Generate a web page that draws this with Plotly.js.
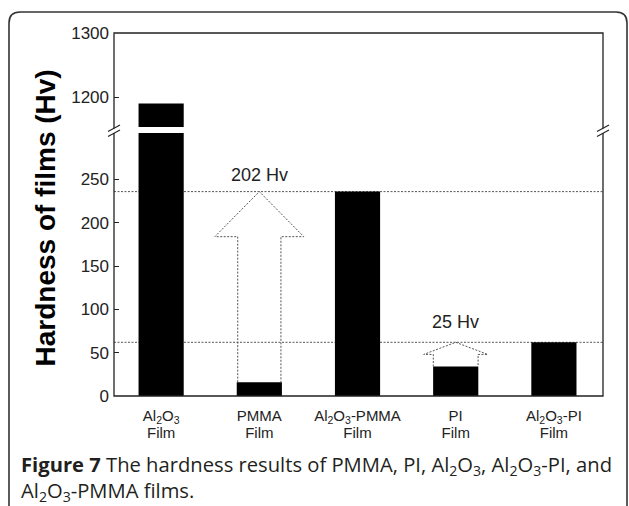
<!DOCTYPE html>
<html>
<head>
<meta charset="utf-8">
<script src="https://cdn.plot.ly/plotly-3.0.1.min.js"></script>
<style>html,body{margin:0;padding:0;background:#fff;}#chart{width:629px;height:506px;}</style>
</head>
<body>
<div id="chart"></div>
<script>
// ---- data ----
const categories = ['Al2O3 Film', 'PMMA Film', 'Al2O3-PMMA Film', 'PI Film', 'Al2O3-PI Film'];
const hardness = [1190, 16, 236, 34, 62];
const tickLine1 = ['Al<sub>2</sub>O<sub>3</sub>', 'PMMA', 'Al<sub>2</sub>O<sub>3</sub>-PMMA', 'PI', 'Al<sub>2</sub>O<sub>3</sub>-PI'];
const tickLine2 = ['Film', 'Film', 'Film', 'Film', 'Film'];
const lowerTicks = [0, 50, 100, 150, 200, 250];
const upperTicks = [1200, 1300];
const gainLabels = ['202 Hv', '25 Hv'];
const gainFrom = [1, 3];   // bar index where the arrow starts
const gainTo = [2, 4];     // bar index whose level the arrow reaches

// ---- layout helpers (pixel -> paper) ----
const L = 114, R = 603, T = 33, B = 396;
const PX = px => (px - L) / (R - L);
const PY = py => (B - py) / (B - T);

const fontFam = '"Liberation Sans", Arial, sans-serif';
const ink = '#222';

const traces = [
  {type: 'bar', x: categories, y: hardness, xaxis: 'x', yaxis: 'y', width: 0.46,
   marker: {color: '#000', line: {width: 0}}, hoverinfo: 'skip', showlegend: false},
  {type: 'bar', x: categories, y: hardness, xaxis: 'x', yaxis: 'y2', width: 0.46,
   marker: {color: '#000', line: {width: 0}}, hoverinfo: 'skip', showlegend: false},
  // carrier for the second line of category labels (draws nothing visible)
  {type: 'scatter', mode: 'markers', x: categories, y: hardness.map(() => 0), xaxis: 'x2', yaxis: 'y',
   marker: {size: 1, opacity: 0}, hoverinfo: 'skip', showlegend: false}
];

const shapes = [];
// reference dashed levels
gainTo.forEach(i => {
  shapes.push({type: 'line', xref: 'paper', yref: 'y', x0: 0, x1: 1, y0: hardness[i], y1: hardness[i],
    line: {color: '#555', width: 1, dash: '2px,1.5px'}, layer: 'below'});
});
// hollow arrows
const arrowStyle = [{shaft: 0.22, head: 0.453, headLen: 52}, {shaft: 0.228, head: 0.326, headLen: 14}];
gainFrom.forEach((f, k) => {
  const c = f, s = arrowStyle[k].shaft, h = arrowStyle[k].head;
  const y0 = hardness[f], ya = hardness[gainTo[k]], yb = ya - arrowStyle[k].headLen;
  const path = `M ${c - s},${y0} L ${c - s},${yb} L ${c - h},${yb} L ${c},${ya} L ${c + h},${yb} L ${c + s},${yb} L ${c + s},${y0}`;
  shapes.push({type: 'path', xref: 'x', yref: 'y', path: path,
    line: {color: '#555', width: 1, dash: '2px,1.5px'}});
});
// frame
shapes.push({type: 'rect', xref: 'paper', yref: 'paper', x0: 0, x1: 1, y0: 0, y1: 1,
  line: {color: ink, width: 1.3}});
// axis break marks
[L, R].forEach(xp => {
  shapes.push({type: 'line', xref: 'paper', yref: 'paper', x0: PX(xp), x1: PX(xp), y0: PY(128.5), y1: PY(133),
    line: {color: '#fff', width: 4}});
  [128.3, 133.3].forEach(yc => {
    shapes.push({type: 'line', xref: 'paper', yref: 'paper', x0: PX(xp - 6), x1: PX(xp + 6),
      y0: PY(yc + 3.2), y1: PY(yc - 3.2), line: {color: ink, width: 1.1}});
  });
});
// outer rounded border
shapes.push({type: 'path', xref: 'paper', yref: 'paper',
  path: `M ${PX(9)},${PY(510)} L ${PX(9)},${PY(23)} Q ${PX(9)},${PY(12)} ${PX(20)},${PY(12)} L ${PX(616)},${PY(12)} Q ${PX(627)},${PY(12)} ${PX(627)},${PY(23)} L ${PX(627)},${PY(510)}`,
  line: {color: '#333', width: 1.6}});

const capFont = {family: '"Open Sans", sans-serif', size: 20.2, color: '#231f20'};
const annotations = [
  {xref: 'paper', yref: 'paper', x: PX(45), y: PY(218.5), xanchor: 'center', yanchor: 'middle',
   text: '<b>Hardness of films (Hv)</b>', textangle: -90, showarrow: false,
   font: {family: fontFam, size: 28, color: '#000'}},
  {xref: 'paper', yref: 'paper', x: PX(19), y: PY(465), xanchor: 'left', yanchor: 'middle', showarrow: false,
   text: '<b>Figure 7</b> The hardness results of PMMA, PI, Al<sub>2</sub>O<sub>3</sub>, Al<sub>2</sub>O<sub>3</sub>-PI, and',
   font: capFont},
  {xref: 'paper', yref: 'paper', x: PX(19), y: PY(491), xanchor: 'left', yanchor: 'middle', showarrow: false,
   text: 'Al<sub>2</sub>O<sub>3</sub>-PMMA films.',
   font: capFont}
];
const labelOffset = [19, 23];
gainFrom.forEach((f, k) => {
  annotations.push({xref: 'x', yref: 'y', x: f, y: hardness[gainTo[k]] + labelOffset[k], text: gainLabels[k],
    showarrow: false, xanchor: 'center', yanchor: 'middle', font: {family: fontFam, size: 18, color: ink}});
});

const layout = {
  width: 629, height: 506,
  margin: {l: L, r: 629 - R, t: T, b: 506 - B, pad: 0},
  paper_bgcolor: '#fff', plot_bgcolor: '#fff',
  showlegend: false,
  bargap: 0.5,
  xaxis: {type: 'category', categoryorder: 'array', categoryarray: categories, range: [-0.48, 4.5],
    tickmode: 'array', tickvals: categories, ticktext: tickLine1, ticks: '', showline: false, showgrid: false,
    zeroline: false, anchor: 'y', ticklabelstandoff: 9, tickfont: {family: fontFam, size: 15, color: ink}},
  xaxis2: {type: 'category', categoryorder: 'array', categoryarray: categories, range: [-0.48, 4.5],
    overlaying: 'x', anchor: 'y', side: 'bottom',
    tickmode: 'array', tickvals: categories, ticktext: tickLine2, ticks: '', showline: false, showgrid: false,
    zeroline: false, ticklabelstandoff: 26, tickfont: {family: fontFam, size: 15, color: ink}},
  yaxis: {domain: [0, PY(133)], range: [0, (B - 133) / 0.866], tickmode: 'array', tickvals: lowerTicks,
    ticks: 'inside', ticklen: 5, tickwidth: 1, tickcolor: ink, showline: false, showgrid: false, zeroline: false,
    anchor: 'x', ticklabelstandoff: 4, tickfont: {family: fontFam, size: 17, color: ink}},
  yaxis2: {domain: [PY(127), 1], range: [1200 - 30 / 0.64, 1300], tickmode: 'array', tickvals: upperTicks,
    ticks: 'inside', ticklen: 5, tickwidth: 1, tickcolor: ink, showline: false, showgrid: false, zeroline: false,
    anchor: 'x', ticklabelstandoff: 4, tickfont: {family: fontFam, size: 17, color: ink}},
  shapes: shapes,
  annotations: annotations
};

Plotly.newPlot('chart', traces, layout, {staticPlot: true, displayModeBar: false});
</script>
</body>
</html>
